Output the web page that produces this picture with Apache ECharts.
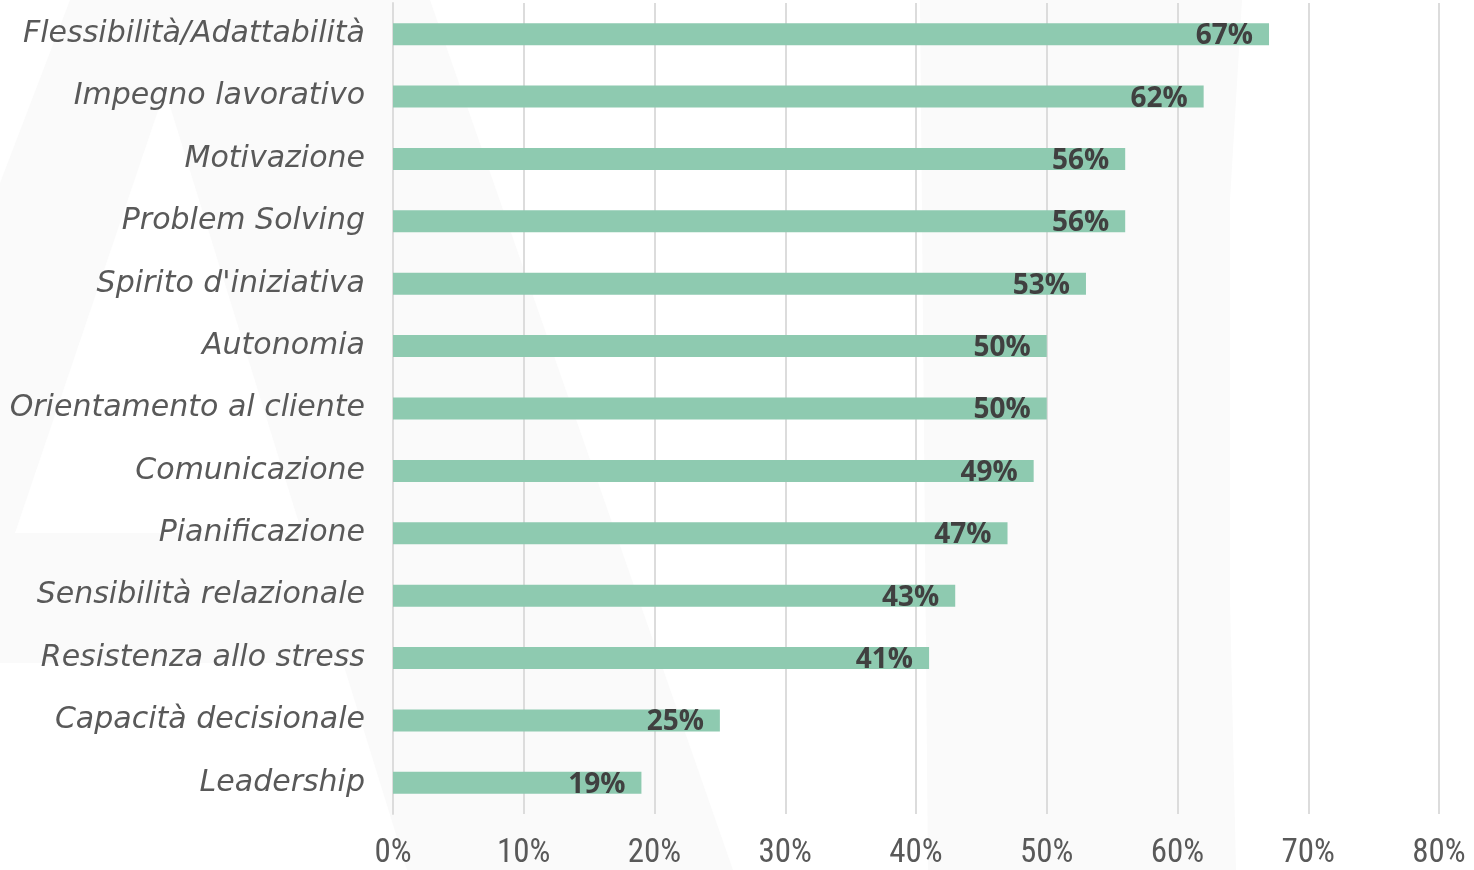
<!DOCTYPE html>
<html>
<head>
<meta charset="utf-8">
<script src="https://cdn.jsdelivr.net/npm/echarts@6/dist/echarts.min.js"></script>
<style>
html,body{margin:0;padding:0;background:#fff;}
#chart{width:1474px;height:870px;}
</style>
</head>
<body>
<div id="chart"></div>
<script>
const categories = [
  "Flessibilità/Adattabilità",
  "Impegno lavorativo",
  "Motivazione",
  "Problem Solving",
  "Spirito d'iniziativa",
  "Autonomia",
  "Orientamento al cliente",
  "Comunicazione",
  "Pianificazione",
  "Sensibilità relazionale",
  "Resistenza allo stress",
  "Capacità decisionale",
  "Leadership"
];
const values = [67, 62, 56, 56, 53, 50, 50, 49, 47, 43, 41, 25, 19];
const xTicks = { min: 0, max: 80, interval: 10 };

const chart = echarts.init(document.getElementById('chart'), null, { renderer: 'canvas' });
const wm = '#fafafa';
chart.setOption({
  backgroundColor: '#ffffff',
  animation: false,
  graphic: [
    { type: 'polygon', z: -10, silent: true,
      shape: { points: [[70,0],[430,0],[733,870],[407,870],[343,663],[0,663],[0,183]] },
      style: { fill: wm } },
    { type: 'polygon', z: -9, silent: true,
      shape: { points: [[165,90],[302,533],[15,533]] },
      style: { fill: '#ffffff' } },
    { type: 'polygon', z: -10, silent: true,
      shape: { points: [[920,0],[1242,0],[1230,200],[1230,600],[1236,870],[928,870]] },
      style: { fill: wm } }
  ],
  grid: { left: 393, right: 35, top: 3, bottom: 54, containLabel: false },
  xAxis: {
    type: 'value',
    min: xTicks.min, max: xTicks.max, interval: xTicks.interval,
    axisLine: { show: false },
    axisTick: { show: false },
    splitLine: { show: true, lineStyle: { color: '#dcdcdc', width: 2 } },
    axisLabel: {
      formatter: v => v + '%',
      color: '#595959',
      fontFamily: "'Liberation Sans Narrow', 'Arial Narrow', 'Roboto Condensed', 'DejaVu Sans Condensed', sans-serif",
      fontSize: 33,
      lineHeight: 33,
      margin: 23
    }
  },
  yAxis: {
    type: 'category',
    data: categories,
    inverse: true,
    axisLine: { show: true, lineStyle: { color: '#dcdcdc', width: 2 } },
    axisTick: { show: false },
    axisLabel: {
      color: '#595959',
      fontFamily: "'DejaVu Sans', sans-serif",
      fontStyle: 'italic',
      fontSize: 30,
      margin: 28,
      padding: [3, 0, 0, 0]
    }
  },
  series: [{
    type: 'bar',
    data: values,
    barWidth: 22,
    itemStyle: { color: '#8ecab0' },
    label: {
      show: true,
      position: 'insideRight',
      distance: 16,
      formatter: p => p.value + '%',
      color: '#404040',
      fontFamily: "'Open Sans', sans-serif",
      fontWeight: 'bold',
      fontSize: 28,
      offset: [0, 2]
    }
  }]
});
</script>
</body>
</html>
